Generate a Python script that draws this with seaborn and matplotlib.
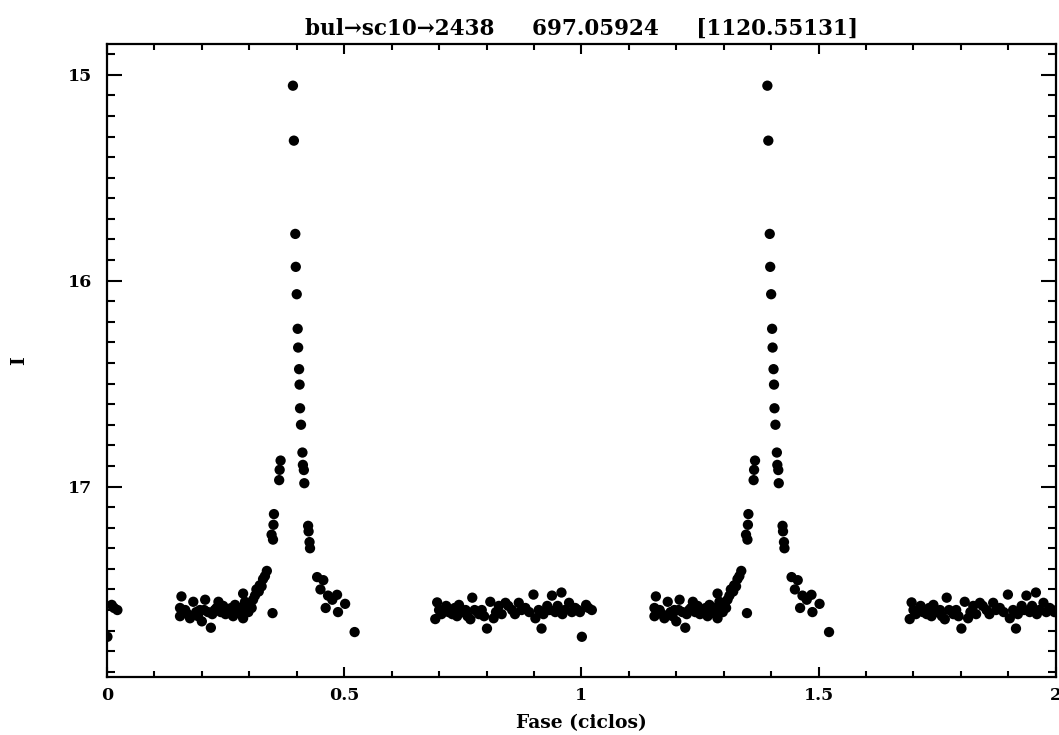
import matplotlib
matplotlib.use("Agg")
import matplotlib.pyplot as plt
from matplotlib.ticker import MultipleLocator, FixedLocator
import seaborn as sns
import pandas as pd

# ---- data (phase in one cycle, I magnitude) ----
phase = [
    0.001, 0.010, 0.015, 0.022,
    # quiescent cluster before the peak
    0.157, 0.154, 0.154, 0.175, 0.182, 0.196, 0.200, 0.207, 0.219, 0.213,
    0.235, 0.231, 0.245, 0.259, 0.266, 0.270, 0.287, 0.287, 0.294, 0.298,
    0.165, 0.170, 0.188, 0.192, 0.205, 0.222, 0.227, 0.240, 0.250, 0.255,
    0.262, 0.275, 0.280, 0.283, 0.291, 0.302, 0.305,
    # rising branch
    0.308, 0.315, 0.312, 0.320, 0.322, 0.326, 0.329, 0.333, 0.337, 0.349,
    0.347, 0.350, 0.351, 0.352, 0.363, 0.364, 0.366,
    # peak
    0.392, 0.394, 0.397, 0.398, 0.400, 0.402, 0.403, 0.405, 0.406, 0.407,
    0.409, 0.412, 0.413, 0.415, 0.416,
    # decline
    0.424, 0.425, 0.427, 0.428, 0.443, 0.456, 0.450, 0.466, 0.485, 0.461,
    0.475, 0.502, 0.487, 0.522,
    # quiescent cluster after the peak
    0.696, 0.692, 0.715, 0.728, 0.742, 0.756, 0.770, 0.766, 0.784, 0.801,
    0.808, 0.815, 0.826, 0.840, 0.854, 0.868, 0.882, 0.899, 0.903, 0.916,
    0.928, 0.938, 0.945, 0.958, 0.960, 0.974, 0.987,
    0.700, 0.705, 0.720, 0.733, 0.738, 0.748, 0.760, 0.775, 0.790, 0.795,
    0.820, 0.832, 0.846, 0.860, 0.874, 0.890, 0.910, 0.920, 0.933, 0.950,
    0.965, 0.980, 0.993, 0.997,
]
mag = [
    17.73, 17.575, 17.59, 17.60,
    17.534, 17.59, 17.63, 17.64, 17.56, 17.60, 17.655, 17.55, 17.686, 17.61,
    17.56, 17.59, 17.58, 17.615, 17.63, 17.575, 17.52, 17.64, 17.58, 17.61,
    17.60, 17.62, 17.61, 17.63, 17.60, 17.62, 17.60, 17.61, 17.62, 17.60,
    17.59, 17.60, 17.59, 17.62, 17.56, 17.57, 17.59,
    17.55, 17.50, 17.53, 17.51, 17.48, 17.485, 17.45, 17.435, 17.41, 17.615,
    17.234, 17.258, 17.186, 17.134, 16.969, 16.919, 16.874,
    15.053, 15.32, 15.773, 15.933, 16.066, 16.234, 16.325, 16.43, 16.505, 16.62,
    16.70, 16.835, 16.895, 16.92, 16.984,
    17.191, 17.218, 17.27, 17.30, 17.44, 17.455, 17.50, 17.53, 17.526, 17.59,
    17.55, 17.57, 17.61, 17.707,
    17.563, 17.644, 17.58, 17.62, 17.575, 17.60, 17.54, 17.645, 17.62, 17.69,
    17.56, 17.64, 17.58, 17.565, 17.60, 17.565, 17.59, 17.525, 17.64, 17.69,
    17.58, 17.53, 17.61, 17.515, 17.62, 17.565, 17.59,
    17.60, 17.62, 17.61, 17.59, 17.63, 17.61, 17.63, 17.60, 17.60, 17.63,
    17.61, 17.62, 17.58, 17.62, 17.60, 17.61, 17.60, 17.62, 17.60, 17.58,
    17.60, 17.61, 17.60, 17.61,
]

title_text = "bul\u2192sc10\u21922438     697.05924     [1120.55131]"
x_label = "Fase (ciclos)"
y_label = "I"
x_ticks = [0, 0.5, 1, 1.5, 2]
x_ticklabels = ["0", "0.5", "1", "1.5", "2"]
y_ticks = [15, 16, 17]
y_ticklabels = ["15", "16", "17"]

# two cycles
df = pd.DataFrame({
    "fase": list(phase) + [p + 1 for p in phase],
    "I": list(mag) + list(mag),
})

sns.set_style("ticks")
plt.rcParams["font.family"] = ["DejaVu Serif", "DejaVu Sans"]
plt.rcParams["font.weight"] = "bold"
plt.rcParams["text.color"] = "black"
plt.rcParams["axes.labelcolor"] = "black"
plt.rcParams["xtick.color"] = "black"
plt.rcParams["ytick.color"] = "black"

fig = plt.figure(figsize=(10.59, 7.35), dpi=100)
ax = fig.add_axes([0.101, 0.079, 0.896, 0.861])

sns.scatterplot(data=df, x="fase", y="I", ax=ax, color="black",
                s=55, linewidth=0, edgecolor="none", legend=False)

ax.set_xlim(0, 2)
ax.set_ylim(17.925, 14.851)

ax.xaxis.set_major_locator(FixedLocator(x_ticks))
ax.set_xticklabels(x_ticklabels, fontweight="bold")
ax.xaxis.set_minor_locator(MultipleLocator(0.1))
ax.yaxis.set_major_locator(FixedLocator(y_ticks))
ax.set_yticklabels(y_ticklabels, fontweight="bold")
ax.yaxis.set_minor_locator(MultipleLocator(0.1))

ax.tick_params(axis="both", which="both", direction="in",
               top=True, right=True, width=1.5, colors="black",
               labelsize=12.5)
ax.tick_params(axis="x", which="major", length=7.5, pad=7)
ax.tick_params(axis="x", which="minor", length=4.5)
ax.tick_params(axis="y", which="major", length=11, pad=11)
ax.tick_params(axis="y", which="minor", length=6)

for sp in ax.spines.values():
    sp.set_linewidth(1.6)
    sp.set_color("black")

ax.set_xlabel(x_label, fontsize=13.5, fontweight="bold", color="black")
ax.xaxis.set_label_coords(0.5, -0.058)
ax.set_ylabel(y_label, fontsize=13.5, fontweight="bold", color="black")
ax.yaxis.set_label_coords(-0.083, 0.5)
ax.set_title(title_text, fontsize=15.5, fontweight="bold", pad=7,
             color="black")

fig.savefig("out.png", dpi=100, facecolor="white")
